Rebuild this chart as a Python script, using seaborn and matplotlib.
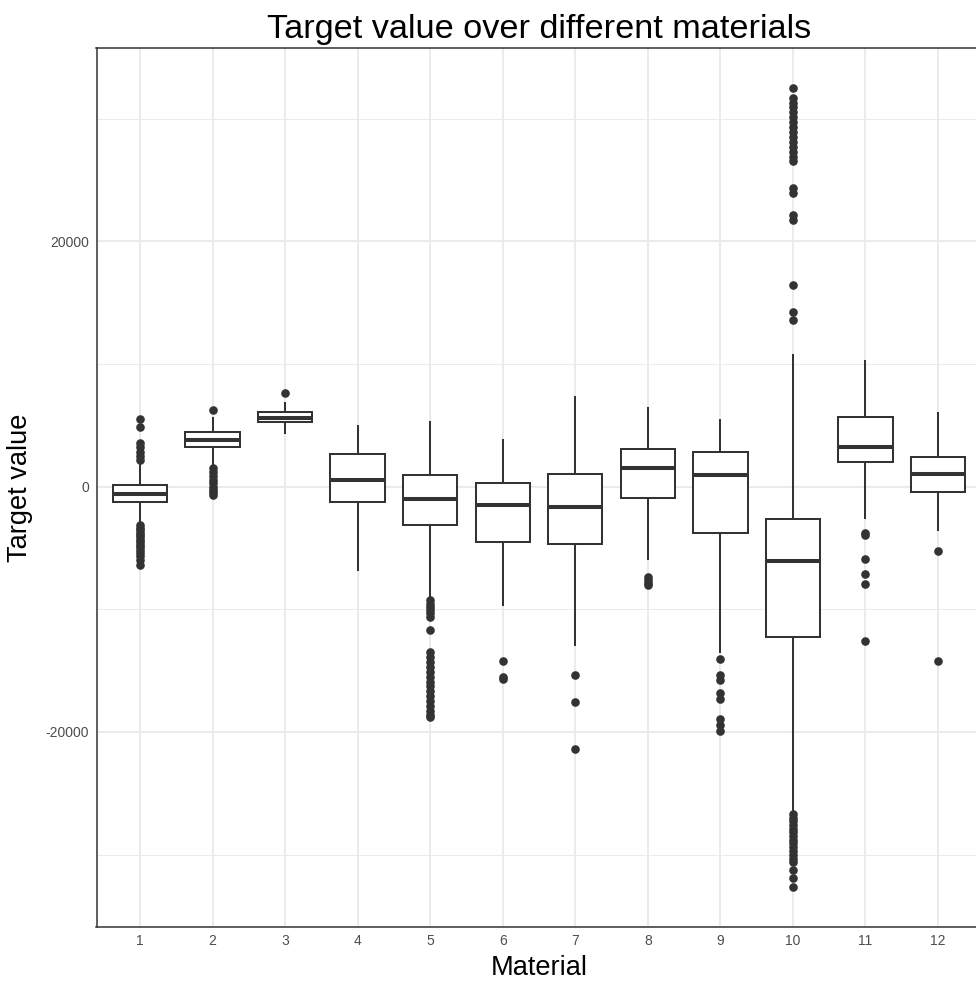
import numpy as np
import pandas as pd
import matplotlib
matplotlib.use("Agg")
import matplotlib.pyplot as plt
import seaborn as sns

# Five-number summaries per material (whisker ends, quartiles, median)
materials = [str(i) for i in range(1, 13)]
lower_whisker = [-2880, 1690, 4270, -6880, -9010, -9710, -13040, -6010, -13580, -26560, -2670, -3620]
q1 = [-1250, 3210, 5250, -1280, -3130, -4540, -4710, -920, -3810, -12300, 2010, -440]
median = [-570, 3760, 5580, 570, -980, -1520, -1630, 1520, 950, -6070, 3240, 1030]
q3 = [100, 4410, 6040, 2640, 920, 300, 1000, 3020, 2800, -2670, 5630, 2370]
upper_whisker = [1880, 5690, 6860, 5010, 5330, 3860, 7370, 6450, 5520, 10780, 10310, 6100]

# Outlying observations per material
outliers_1 = [2150, 2500, 2830, 3200, 3510, 4820, 5520,
              -3160, -3350, -3550, -3750, -3950, -4150, -4350, -4550, -4750,
              -4950, -5150, -5400, -5700, -6000, -6420]
outliers_2 = [6200, 1470, 1150, 850, 550, 250, 0, -250, -450, -710]
outliers_3 = [7590]
outliers_4 = []
outliers_5 = [-9280, -9550, -9800, -10050, -10300, -10600, -11670,
              -13500, -13900, -14300, -14700, -15100, -15500, -15900, -16300,
              -16700, -17100, -17500, -17900, -18300, -18600, -18800]
outliers_6 = [-14260, -15500, -15650]
outliers_7 = [-15350, -17550, -21410]
outliers_8 = [-7380, -7600, -7830, -8060]
outliers_9 = [-14040, -15350, -15810, -16820, -17310, -18940, -19480, -19890]
outliers_10 = [13550, 14200, 16460, 21740, 22150, 23920, 24330,
               26500, 26900, 27300, 27700, 28100, 28500, 28900, 29300,
               29700, 30100, 30500, 30900, 31300, 31700, 32490,
               -26700, -27000, -27300, -27600, -27900, -28200, -28500, -28800,
               -29100, -29400, -29700, -30000, -30370, -30610, -31270, -31920, -32650]
outliers_11 = [-3760, -3920, -5900, -7100, -7970, -12570]
outliers_12 = [-5280, -14230]

outliers = [outliers_1, outliers_2, outliers_3, outliers_4, outliers_5, outliers_6,
            outliers_7, outliers_8, outliers_9, outliers_10, outliers_11, outliers_12]

box_df = pd.DataFrame({
    "Material": np.repeat(materials, 5),
    "Target value": np.ravel(np.column_stack([lower_whisker, q1, median, q3, upper_whisker])),
})
out_df = pd.DataFrame({
    "Material": [m for m, vals in zip(materials, outliers) for _ in vals],
    "Target value": [v for vals in outliers for v in vals],
})

sns.set_style("white")
plt.rcParams["font.family"] = ["Liberation Sans", "DejaVu Sans"]
plt.rcParams["axes.unicode_minus"] = False

W, H = 976, 983
fig = plt.figure(figsize=(W / 100, H / 100), dpi=100)
left, right, top, bottom = 96.5, 981.5, 48, 927
ax = fig.add_axes([left / W, 1 - bottom / H, (right - left) / W, (bottom - top) / H])

dark = "#333333"
sns.boxplot(data=box_df, x="Material", y="Target value", order=materials,
            whis=(0, 100), showfliers=False, width=0.75, color="white",
            saturation=1, linecolor=dark, linewidth=1.45, showcaps=False,
            medianprops=dict(linewidth=2.9, color=dark), ax=ax, zorder=3)
sns.stripplot(data=out_df, x="Material", y="Target value", order=materials,
              jitter=False, color=dark, size=6.2, linewidth=0, ax=ax, zorder=4)

# Axis limits with 5% padding around the data range
all_vals = np.concatenate([box_df["Target value"].values, out_df["Target value"].values])
span = all_vals.max() - all_vals.min()
ax.set_ylim(all_vals.min() - 0.05 * span, all_vals.max() + 0.05 * span)
ax.set_xlim(-0.6, len(materials) - 0.4)

ax.set_yticks([-20000, 0, 20000])
ax.set_yticklabels(["-20000", "0", "20000"])
ax.set_yticks([-30000, -10000, 10000, 30000], minor=True)

grid_c = "#EBEBEB"
ax.set_axisbelow(True)
ax.grid(True, which="major", axis="both", color=grid_c, linewidth=1.4)
ax.grid(True, which="minor", axis="y", color=grid_c, linewidth=0.7)

for s in ax.spines.values():
    s.set_color(dark)
    s.set_linewidth(1.1)

ax.tick_params(axis="both", which="major", length=3.8, width=1.0, color=dark,
               labelsize=10, labelcolor="#4D4D4D", pad=1.4, direction="out")
ax.tick_params(axis="y", which="minor", length=0)

ax.set_xlabel("")
ax.set_ylabel("")

cx = (left + right) / 2 / W
fig.text(cx, 1 - 38 / H, "Target value over different materials",
         ha="center", va="baseline", fontsize=24.7, color="black")
fig.text(cx, 1 - 975 / H, "Material", ha="center", va="baseline",
         fontsize=19.6, color="black")
fig.text(20 / W, 1 - 487.5 / H, "Target value", ha="center", va="center",
         rotation=90, fontsize=19.6, color="black")

fig.savefig("out.png", dpi=100, facecolor="white")
